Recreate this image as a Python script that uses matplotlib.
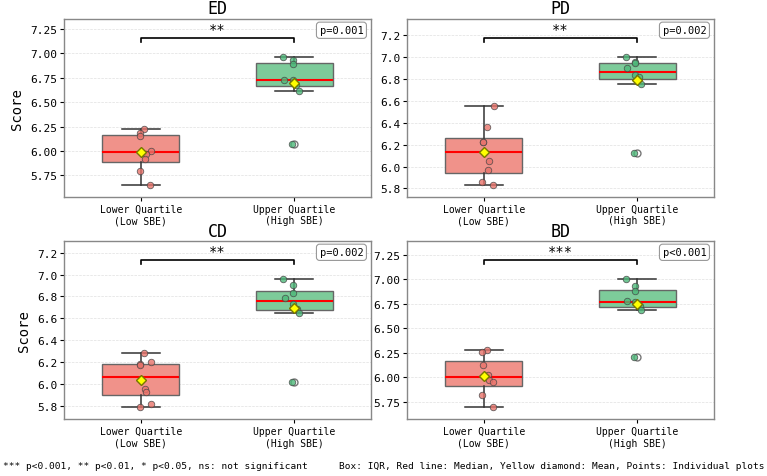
import numpy as np
import matplotlib
matplotlib.use("Agg")
from matplotlib import pyplot as plt
from matplotlib.ticker import MultipleLocator

plt.rcParams['font.family'] = ['DejaVu Sans Mono']

# Data
groups = ["Lower Quartile\n(Low SBE)", "Upper Quartile\n(High SBE)"]
panels = ["ED", "PD", "CD", "BD"]

ed_low = [6.221, 6.184, 6.153, 6.000, 5.969, 5.922, 5.796, 5.646]
ed_high = [6.959, 6.929, 6.888, 6.724, 6.724, 6.680, 6.616, 6.068]
pd_low = [6.552, 6.364, 6.227, 6.224, 6.048, 5.967, 5.861, 5.827]
pd_high = [6.997, 6.955, 6.942, 6.897, 6.839, 6.815, 6.752, 6.124]
cd_low = [6.282, 6.200, 6.182, 6.173, 5.955, 5.930, 5.818, 5.785]
cd_high = [6.955, 6.909, 6.833, 6.782, 6.730, 6.682, 6.645, 6.015]
bd_low = [6.279, 6.259, 6.129, 6.027, 5.976, 5.946, 5.813, 5.690]
bd_high = [7.000, 6.932, 6.884, 6.779, 6.765, 6.724, 6.690, 6.207]

sig_marks = ["**", "**", "**", "***"]
p_texts = ["p=0.001", "p=0.002", "p=0.002", "p<0.001"]
tick_steps = [0.25, 0.2, 0.2, 0.25]

# horizontal jitter of the points (x offsets)
jit_low = [[0.022, -0.004, -0.004, 0.066, 0.033, 0.028, -0.004, 0.063],
           [0.065, 0.022, -0.004, -0.004, 0.033, 0.028, -0.011, 0.063],
           [0.024, 0.068, -0.004, -0.002, 0.028, 0.035, 0.066, -0.004],
           [0.020, -0.009, -0.004, 0.030, 0.037, 0.063, -0.011, 0.063]]
jit_high = [[-0.070, -0.009, -0.009, -0.066, -0.011, 0.011, 0.028, -0.013],
            [-0.074, -0.017, -0.017, -0.065, -0.017, 0.013, 0.026, -0.022],
            [-0.070, -0.011, -0.011, -0.061, -0.011, 0.015, 0.028, -0.015],
            [-0.072, -0.017, -0.017, -0.065, -0.013, 0.015, 0.026, -0.022]]

data = [[ed_low, ed_high], [pd_low, pd_high], [cd_low, cd_high], [bd_low, bd_high]]

box_colors = ["#F0928A", "#7DCB9A"]
point_colors = ["#E8736B", "#4DB879"]

fig = plt.figure(figsize=(7.67, 4.77), dpi=100)
lefts = [0.0834, 0.5306, 0.0834, 0.5306]
bottoms = [0.585, 0.585, 0.1195, 0.1195]
w, h = 0.4003, 0.373

for k in range(4):
    ax = fig.add_axes([lefts[k], bottoms[k], w, h])
    low, high = data[k]
    bp = ax.boxplot([low, high], positions=[0, 1], widths=0.5, patch_artist=True,
                    showmeans=True,
                    medianprops=dict(color="red", linewidth=1.5),
                    meanprops=dict(marker="D", markerfacecolor="yellow",
                                   markeredgecolor="#777700", markersize=5.5, zorder=5),
                    whiskerprops=dict(color="#333333", linewidth=1.1),
                    capprops=dict(color="#333333", linewidth=1.1),
                    flierprops=dict(marker="o", markerfacecolor="none",
                                    markeredgecolor="#777777", markersize=5))
    for patch, c in zip(bp["boxes"], box_colors):
        patch.set_facecolor(c)
        patch.set_edgecolor("#666666")
        patch.set_linewidth(1.0)
    for i, (vals, jit) in enumerate([(low, jit_low[k]), (high, jit_high[k])]):
        ax.scatter(np.array(jit) + i, vals, s=22, color=point_colors[i],
                   edgecolor="#444444", linewidth=0.6, alpha=0.8, zorder=4)

    allv = low + high
    lo, hi = min(allv), max(allv)
    r = hi - lo
    ax.set_ylim(lo - 0.09 * r, hi + 0.3 * r)
    ax.set_xlim(-0.5, 1.5)

    # significance bracket
    yb = hi + 0.15 * r
    ax.plot([0, 0, 1, 1], [yb - 0.03 * r, yb, yb, yb - 0.03 * r], color="black", lw=1.2)
    ax.text(0.5, yb + 0.02 * r, sig_marks[k], ha="center", va="bottom", fontsize=10)
    ax.text(0.975, 0.965, p_texts[k], transform=ax.transAxes, ha="right", va="top",
            fontsize=7.5,
            bbox=dict(boxstyle="round,pad=0.3", facecolor="white", edgecolor="#999999", lw=0.8))

    ax.set_title(panels[k], fontsize=12, pad=4)
    ax.set_xticks([0, 1])
    ax.set_xticklabels(groups, fontsize=7)
    ax.yaxis.set_major_locator(MultipleLocator(tick_steps[k]))
    ax.tick_params(axis="y", labelsize=8, length=3, pad=2)
    ax.tick_params(axis="x", length=3, pad=2)
    ax.grid(axis="y", linestyle="--", color="#cccccc", linewidth=0.5, alpha=0.6)
    ax.set_axisbelow(True)
    for s in ax.spines.values():
        s.set_color("#888888")
        s.set_linewidth(1.0)
    if k in (0, 2):
        ax.set_ylabel("Score", fontsize=10)

fig.text(0.004, 0.021, "*** p<0.001, ** p<0.01, * p<0.05, ns: not significant",
         fontsize=6.8, va="center", ha="left")
fig.text(0.997, 0.021, "Box: IQR, Red line: Median, Yellow diamond: Mean, Points: Individual plots",
         fontsize=6.8, va="center", ha="right")

fig.savefig("out.png", dpi=100)
